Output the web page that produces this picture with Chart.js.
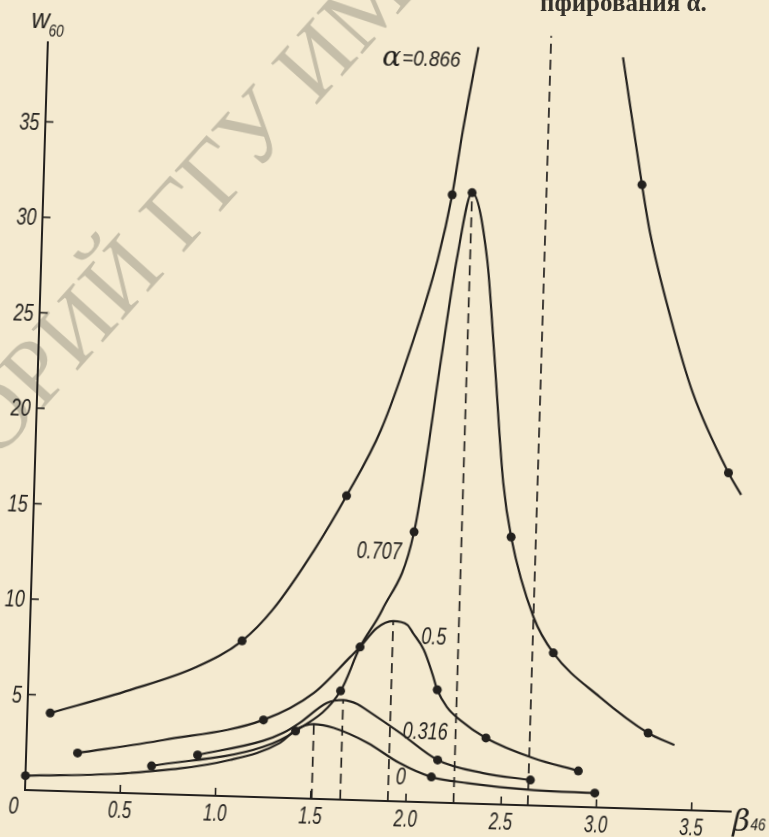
<!DOCTYPE html>
<html>
<head>
<meta charset="utf-8">
<script src="https://cdn.jsdelivr.net/npm/chart.js@4.4.1/dist/chart.umd.min.js"></script>
<style>
html, body { margin: 0; padding: 0; width: 769px; height: 837px; overflow: hidden; background: #f4ead0; }
#wrap { position: absolute; left: -30px; top: -30px; width: 830px; height: 900px;
        transform: rotate(1.75deg); transform-origin: 55px 820px; }
#top { position: absolute; left: 540px; top: -9px; font: bold 25px "Liberation Serif", serif;
       line-height: 24px; color: #35322c; white-space: nowrap; }
</style>
</head>
<body>
<div id="wrap"><canvas id="chart" width="830" height="900"></canvas></div>
<div id="top">пфирования α.</div>
<script>
// tick values and labels
const xTicks = [0.5, 1.0, 1.5, 2.0, 2.5, 3.0, 3.5];
const xTickLabels = ['0.5', '1.0', '1.5', '2.0', '2.5', '3.0', '3.5'];
const yTicks = [5, 10, 15, 20, 25, 30, 35];
const yTickLabels = ['5', '10', '15', '20', '25', '30', '35'];

// alpha = 0
const b0 = [0.00, 0.55, 1.07, 1.33, 1.42, 1.505, 1.61, 1.79, 1.96, 2.13, 2.32, 2.67, 2.99];
const w0 = [0.75, 1.06, 1.90, 2.87, 3.65, 3.91, 3.74, 3.01, 2.01, 1.33, 1.07, 0.81, 0.75];
const m0b = [0.00, 2.13, 2.99];
const m0w = [0.75, 1.33, 0.75];

// alpha = 0.316
const b1 = [0.90, 1.24, 1.345, 1.43, 1.57, 1.655, 1.73, 1.78, 1.96, 2.16, 2.40, 2.65];
const w1 = [2.11, 2.95, 3.40, 3.95, 5.04, 5.22, 5.03, 4.73, 3.58, 2.23, 1.62, 1.33];
const m1b = [0.90, 2.16, 2.65];
const m1w = [2.11, 2.23, 1.33];

// alpha = 0.5
const b2 = [0.27, 0.72, 1.24, 1.50, 1.685, 1.735, 1.82, 1.905, 1.98, 2.01, 2.07, 2.12, 2.147, 2.20, 2.27, 2.41, 2.66, 2.90];
const w2 = [2.02, 2.84, 4.05, 5.54, 7.48, 8.02, 9.04, 9.43, 9.25, 8.84, 7.97, 6.70, 5.90, 5.02, 4.36, 3.46, 2.49, 1.88];
const m2b = [0.27, 1.24, 1.735, 2.147, 2.41, 2.90];
const m2w = [2.02, 4.05, 8.02, 5.90, 3.46, 1.88];

// alpha = 0.707
const b3 = [0.66, 1.24, 1.41, 1.64, 1.735, 1.845, 2.00, 2.12, 2.18, 2.25, 2.34, 2.39, 2.46, 2.51, 2.64, 2.75, 3.00, 3.26, 3.40];
const w3 = [1.46, 2.63, 3.52, 5.69, 8.02, 9.99, 14.13, 23.7, 28.44, 31.97, 28.49, 23.78, 16.84, 14.02, 9.87, 8.02, 5.79, 3.98, 3.39];
const m3b = [0.66, 1.41, 1.64, 2.00, 2.25, 2.51, 2.75, 3.26];
const m3w = [1.46, 3.52, 5.69, 14.13, 31.97, 14.02, 8.02, 3.98];

// alpha = 0.866, left branch
const b4 = [0.12, 0.535, 0.88, 1.115, 1.27, 1.48, 1.64, 1.81, 1.95, 2.08, 2.146, 2.19, 2.26];
const w4 = [4.07, 5.40, 6.71, 8.15, 9.82, 13.03, 15.91, 19.41, 23.65, 28.4, 31.83, 35.1, 39.6];
const m4b = [0.12, 1.115, 1.64, 2.146];
const m4w = [4.07, 8.15, 15.91, 31.83];

// alpha = 0.866, right branch
const b5 = [3.02, 3.14, 3.19, 3.31, 3.44, 3.64, 3.71];
const w5 = [39.3, 32.66, 30.16, 25.8, 21.85, 17.72, 16.59];
const m5b = [3.14, 3.64];
const m5w = [32.66, 17.72];

// dashed verticals (peaks and asymptote)
const dashB = [1.505, 1.655, 1.905, 2.25, 2.64];
const dashTop = [3.91, 5.22, 9.43, 31.97, 40.3];

// curve labels
const curveNames = ['0.707', '0.5', '0.316', '0'];
const nameB = [1.82, 2.12, 2.09, 1.97];
const nameW = [13.0, 8.6, 3.62, 1.23];

const ink = '#23211e';
const paper = '#f4ead0';
const tilt = 1.75 * Math.PI / 180;
const sans = '"Liberation Sans", Arial, sans-serif';

function pts(bs, ws) {
  return bs.map((b, i) => ({ x: b, y: ws[i] }));
}
function curve(bs, ws) {
  return { data: pts(bs, ws), borderColor: ink, borderWidth: 2.2, pointRadius: 0,
           cubicInterpolationMode: 'monotone', fill: false, clip: false };
}
function marks(bs, ws) {
  return { data: pts(bs, ws), showLine: false, pointRadius: 4.5, pointBackgroundColor: ink,
           pointBorderWidth: 0, clip: false };
}
// narrow italic text, like the drafting lettering of the figure
function narrowText(ctx, text, x, y, size, sx, align) {
  ctx.save();
  ctx.translate(x, y);
  ctx.scale(sx, 1);
  ctx.font = 'italic ' + size + 'px ' + sans;
  ctx.textAlign = align;
  ctx.fillText(text, 0, 0);
  ctx.restore();
}

const datasets = [];
dashB.forEach((b, i) => {
  datasets.push({ data: [{ x: b, y: 0 }, { x: b, y: dashTop[i] }], borderColor: ink,
                  borderWidth: 1.7, borderDash: [10, 6], pointRadius: 0, clip: false });
});
[[b0, w0], [b1, w1], [b2, w2], [b3, w3], [b4, w4], [b5, w5]].forEach(c => datasets.push(curve(c[0], c[1])));
[[m0b, m0w], [m1b, m1w], [m2b, m2w], [m3b, m3w], [m4b, m4w], [m5b, m5w]].forEach(c => datasets.push(marks(c[0], c[1])));

const decor = {
  id: 'decor',
  beforeDraw(chart) {
    const ctx = chart.ctx, a = chart.chartArea;
    ctx.save();
    ctx.fillStyle = paper;
    ctx.fillRect(0, 0, chart.width, chart.height);
    // watermark, in page coordinates
    ctx.translate(a.left, a.bottom);
    ctx.rotate(-tilt);
    ctx.translate(-25, -790);
    ctx.translate(-5, 462);
    ctx.rotate(-48 * Math.PI / 180);
    ctx.font = '94px "Liberation Serif", serif';
    ctx.fillStyle = 'rgba(120,118,104,0.38)';
    ctx.fillText('ОРИЙ ГГУ ИМ', 0, 0);
    ctx.restore();
  },
  afterDraw(chart) {
    const ctx = chart.ctx, a = chart.chartArea;
    const xs = chart.scales.x, ys = chart.scales.y;
    ctx.save();
    ctx.strokeStyle = ink;
    ctx.fillStyle = ink;
    ctx.lineWidth = 1.6;
    ctx.textBaseline = 'alphabetic';
    xTicks.forEach((v, i) => {
      const px = xs.getPixelForValue(v);
      ctx.beginPath(); ctx.moveTo(px, a.bottom); ctx.lineTo(px, a.bottom - 8); ctx.stroke();
      narrowText(ctx, xTickLabels[i], px, a.bottom + 25, 24, 0.7, 'center');
    });
    yTicks.forEach((v, i) => {
      const py = ys.getPixelForValue(v);
      ctx.beginPath(); ctx.moveTo(a.left, py); ctx.lineTo(a.left + 8, py); ctx.stroke();
      narrowText(ctx, yTickLabels[i], a.left - 6, py + 8.5, 24, 0.75, 'right');
    });

    ctx.textBaseline = 'middle';
    curveNames.forEach((t, i) => {
      narrowText(ctx, t, xs.getPixelForValue(nameB[i]), ys.getPixelForValue(nameW[i]), 23, 0.78, 'center');
    });

    // alpha = 0.866 label
    let lx = xs.getPixelForValue(1.757), ly = ys.getPixelForValue(38.85);
    ctx.textAlign = 'left';
    ctx.font = 'italic 28px "DejaVu Serif", serif';
    ctx.fillText('α', lx, ly);
    lx += ctx.measureText('α').width + 1;
    narrowText(ctx, '=0.866', lx, ly, 22, 0.86, 'left');

    // axis titles and origin
    narrowText(ctx, 'w', a.left - 8, a.top - 22, 28, 0.9, 'center');
    narrowText(ctx, '60', a.left + 8, a.top - 11, 17, 0.8, 'center');
    ctx.textAlign = 'center';
    ctx.font = 'italic 30px "DejaVu Serif", serif';
    ctx.fillText('β', a.right + 10, a.bottom + 11);
    narrowText(ctx, '46', a.right + 27, a.bottom + 13, 17, 0.8, 'center');
    narrowText(ctx, '0', a.left - 11, a.bottom + 17, 24, 0.75, 'center');
    ctx.restore();
  }
};

new Chart(document.getElementById('chart'), {
  type: 'line',
  data: { datasets: datasets },
  options: {
    responsive: false,
    animation: false,
    devicePixelRatio: 1,
    layout: { padding: { left: 0, right: 68.2, top: 72.2, bottom: 0 } },
    plugins: { legend: { display: false }, tooltip: { enabled: false } },
    scales: {
      x: {
        type: 'linear', min: 0, max: 3.71,
        grid: { display: false },
        border: { display: true, color: ink, width: 2 },
        afterBuildTicks: s => { s.ticks = xTicks.map(v => ({ value: v })); },
        afterFit: s => { s.height = 80; },
        ticks: { display: false }
      },
      y: {
        type: 'linear', min: 0, max: 39.15,
        grid: { display: false },
        border: { display: true, color: ink, width: 2 },
        afterBuildTicks: s => { s.ticks = yTicks.map(v => ({ value: v })); },
        afterFit: s => { s.width = 55; },
        ticks: { display: false }
      }
    }
  },
  plugins: [decor]
});
</script>
</body>
</html>
